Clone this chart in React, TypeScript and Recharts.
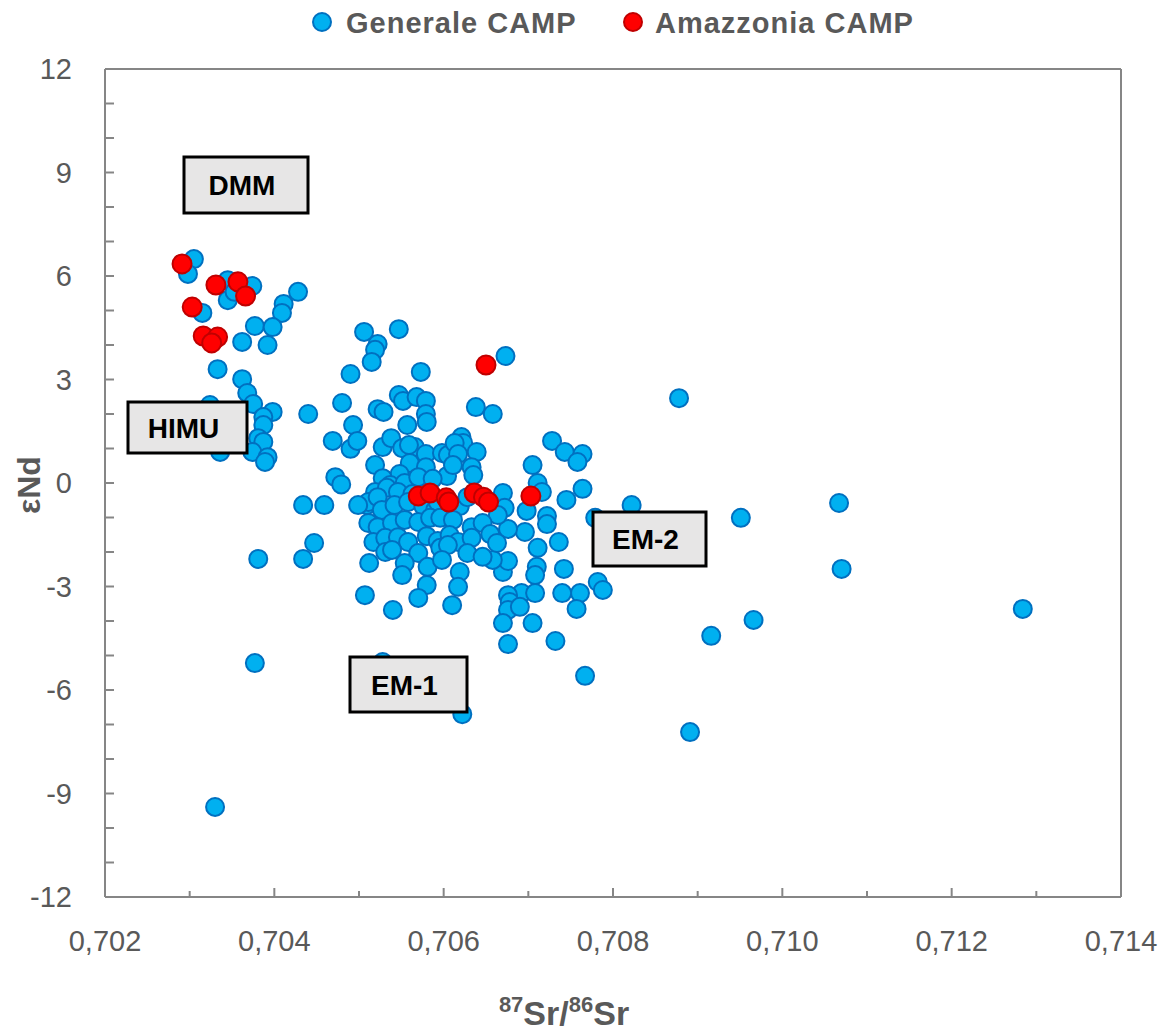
import React from "react";
import {
  ScatterChart,
  Scatter,
  XAxis,
  YAxis,
  ReferenceLine,
} from "recharts";

// [87Sr/86Sr, eNd]
const generaleCamp: [number, number][] = [
  [0.70305, 6.49], [0.70298, 6.06], [0.70345, 5.88], [0.70374, 5.71], [0.70345, 5.3],
  [0.70353, 5.54], [0.70315, 4.93], [0.70411, 5.19], [0.70409, 4.93], [0.70428, 5.54],
  [0.70377, 4.55], [0.70398, 4.52], [0.70362, 4.09], [0.70392, 4.0], [0.70333, 3.3],
  [0.70362, 3.01], [0.70368, 2.61], [0.70375, 2.29], [0.70398, 2.06], [0.7044, 2.0],
  [0.70324, 2.26], [0.70387, 1.91], [0.70387, 1.68], [0.70381, 1.3], [0.70387, 1.19],
  [0.70374, 0.9], [0.70392, 0.75], [0.70389, 0.61], [0.70336, 0.9], [0.70469, 1.22],
  [0.70472, 0.17], [0.7048, 2.32],
  [0.70493, 1.68], [0.7049, 0.99], [0.70479, -0.04], [0.70434, -0.64], [0.70459, -0.64],
  [0.70447, -1.74], [0.70434, -2.2], [0.70381, -2.2], [0.70377, -5.22],
  [0.7033, -9.39],
  [0.70506, 4.38], [0.70547, 4.46], [0.70522, 4.03], [0.70519, 3.86], [0.70515, 3.51],
  [0.70673, 3.68], [0.7049, 3.16], [0.70573, 3.22], [0.70547, 2.55], [0.70552, 2.38],
  [0.70568, 2.49], [0.70579, 2.38], [0.70579, 2.0], [0.70522, 2.14], [0.70529, 2.06],
  [0.70638, 2.2], [0.70658, 2.0], [0.70557, 1.68], [0.70498, 1.22], [0.70528, 1.04],
  [0.70538, 1.3], [0.70551, 1.01], [0.70566, 1.04], [0.70579, 0.84], [0.70598, 0.87],
  [0.70605, 0.81], [0.70621, 1.33], [0.70623, 1.16], [0.70639, 0.9], [0.70728, 1.22],
  [0.70743, 0.9], [0.70764, 0.84], [0.70758, 0.61], [0.70705, 0.52], [0.70711, 0.0],
  [0.70716, -0.26], [0.70764, -0.17], [0.70745, -0.49], [0.70779, -1.01], [0.70519, 0.52],
  [0.70509, -0.64], [0.70512, -2.32], [0.70507, -3.25], [0.70722, -0.96], [0.70722, -1.19],
  [0.70696, -1.42], [0.70676, -1.33], [0.70711, -1.88], [0.70736, -1.71], [0.7071, -2.43],
  [0.70708, -2.67], [0.70742, -2.49], [0.7067, -2.58], [0.70676, -2.26], [0.70658, -2.23],
  [0.70782, -2.87], [0.70788, -3.1], [0.70761, -3.19], [0.7074, -3.19], [0.70692, -3.19],
  [0.70676, -3.25], [0.70708, -3.19], [0.70619, -2.58], [0.70617, -3.01], [0.7058, -2.96],
  [0.7057, -3.33],
  [0.70559, 1.1], [0.7058, 1.77], [0.70613, 1.16], [0.70617, 0.84], [0.7056, 0.58],
  [0.70548, 0.26], [0.70579, 0.46], [0.70604, 0.2], [0.70611, 0.52], [0.70633, 0.46],
  [0.70635, 0.23], [0.70528, 0.14], [0.70537, -0.06], [0.70554, 0.0], [0.7057, 0.17],
  [0.70587, 0.12], [0.70519, -0.26], [0.70533, -0.14], [0.70546, -0.26], [0.70563, -0.32],
  [0.70511, -0.55], [0.70522, -0.41], [0.70499, -0.64], [0.70527, -0.78], [0.70542, -0.64],
  [0.70558, -0.55], [0.70576, -0.67], [0.7059, -0.78], [0.70593, -0.55], [0.70619, -0.67],
  [0.70628, -0.41], [0.7067, -0.29], [0.70672, -0.72], [0.70664, -0.93], [0.70511, -1.16],
  [0.70522, -1.28], [0.70539, -1.16], [0.70554, -1.07], [0.7057, -1.13], [0.70584, -1.01],
  [0.70596, -1.01], [0.70611, -1.07], [0.70633, -1.28], [0.70646, -1.16], [0.70517, -1.71],
  [0.70531, -1.59], [0.70546, -1.57], [0.70558, -1.71], [0.7058, -1.54], [0.70593, -1.68],
  [0.70607, -1.51], [0.70617, -1.71], [0.70633, -1.59], [0.70655, -1.48], [0.70663, -1.74],
  [0.70531, -2.0], [0.70539, -1.94], [0.7057, -2.03], [0.70596, -1.88], [0.70605, -1.8],
  [0.70628, -2.03], [0.70646, -2.14], [0.70554, -2.32], [0.70581, -2.43], [0.70598, -2.23],
  [0.70551, -2.67], [0.7061, -3.54], [0.7054, -3.68], [0.70678, -3.45], [0.70676, -3.68],
  [0.70698, -0.81], [0.7069, -3.59], [0.70757, -3.65], [0.7067, -4.06], [0.70705, -4.06],
  [0.70676, -4.67], [0.70732, -4.58], [0.70767, -5.59], [0.70822, -0.64],
  [0.70878, 2.46], [0.70951, -1.01], [0.71067, -0.58], [0.7107, -2.49], [0.71284, -3.65],
  [0.70966, -3.97], [0.70916, -4.43], [0.70891, -7.22], [0.70528, -5.19], [0.70622, -6.7],
];

const amazzoniaCamp: [number, number][] = [
  [0.70291, 6.35], [0.70331, 5.74], [0.70357, 5.83], [0.70366, 5.42], [0.70303, 5.1],
  [0.70316, 4.26], [0.70333, 4.23], [0.70326, 4.06], [0.7065, 3.42],
  [0.7057, -0.38], [0.70584, -0.29], [0.70603, -0.43], [0.70606, -0.55],
  [0.70636, -0.29], [0.70647, -0.41], [0.70653, -0.55], [0.70703, -0.38],
];

const xTicks = [
  0.702, 0.703, 0.704, 0.705, 0.706, 0.707, 0.708, 0.709, 0.71, 0.711, 0.712, 0.713, 0.714,
];
const yTicks = [
  -12, -11, -10, -9, -8, -7, -6, -5, -4, -3, -2, -1, 0, 1, 2, 3, 4, 5, 6, 7, 8, 9, 10, 11, 12,
];

const blueData = generaleCamp.map(([x, y]) => ({ x, y }));
const redData = amazzoniaCamp.map(([x, y]) => ({ x, y }));

const AXIS = "#868686";
const TEXT = "#595959";
const FONT = "'Liberation Sans', Arial, sans-serif";

function XTick(props: any) {
  const { x, y, payload } = props;
  const v = payload.value as number;
  const major = Math.round(v * 1000) % 2 === 0;
  return (
    <g>
      <line x1={x} x2={x} y1={y} y2={y - (major ? 9 : 6)} stroke={AXIS} strokeWidth={2} />
      {major && (
        <text x={x} y={y + 54} textAnchor="middle" fontSize={29} fill={TEXT} fontFamily={FONT}>
          {v.toFixed(3).replace(".", ",")}
        </text>
      )}
    </g>
  );
}

function YTick(props: any) {
  const { x, y, payload } = props;
  const v = payload.value as number;
  return (
    <g>
      <line x1={x} x2={x + 9} y1={y} y2={y} stroke={AXIS} strokeWidth={2} />
      {v % 3 === 0 && (
        <text x={x - 33} y={y + 10} textAnchor="end" fontSize={29} fill={TEXT} fontFamily={FONT}>
          {v}
        </text>
      )}
    </g>
  );
}

const blueDot = (p: any) => (
  <circle cx={p.cx} cy={p.cy} r={9} fill="#00b0f0" stroke="#0070c0" strokeWidth={2} />
);
const redDot = (p: any) => (
  <circle cx={p.cx} cy={p.cy} r={9.5} fill="#ff0000" stroke="#c00000" strokeWidth={2} />
);

function Box({ x, y, w, h, label }: { x: number; y: number; w: number; h: number; label: string }) {
  return (
    <g>
      <rect x={x} y={y} width={w} height={h} fill="#e7e6e6" stroke="#000" strokeWidth={3} />
      <text
        x={x + w / 2 - 4}
        y={y + h / 2 + 10}
        textAnchor="middle"
        fontSize={28}
        fontWeight="bold"
        fill="#000"
        fontFamily={FONT}
      >
        {label}
      </text>
    </g>
  );
}

export default function App() {
  return (
    <div
      style={{
        position: "absolute",
        left: 0,
        top: 0,
        width: 1161,
        height: 1036,
        background: "#fff",
        fontFamily: FONT,
      }}
    >
      <ScatterChart width={1161} height={1036} margin={{ top: 69, right: 40, bottom: 79, left: 45 }}>
        <XAxis
          type="number"
          dataKey="x"
          domain={[0.702, 0.714]}
          ticks={xTicks}
          interval={0}
          height={60}
          tickSize={0}
          tickMargin={0}
          tick={<XTick />}
          axisLine={{ stroke: AXIS, strokeWidth: 2 }}
          tickLine={false}
        />
        <YAxis
          type="number"
          dataKey="y"
          domain={[-12, 12]}
          ticks={yTicks}
          interval={0}
          width={60}
          tickSize={0}
          tickMargin={0}
          tick={<YTick />}
          axisLine={{ stroke: AXIS, strokeWidth: 2 }}
          tickLine={false}
        />
        <ReferenceLine y={12} stroke={AXIS} strokeWidth={2} />
        <ReferenceLine x={0.714} stroke={AXIS} strokeWidth={2} />
        <Scatter name="Generale CAMP" data={blueData} shape={blueDot} isAnimationActive={false} />
        <Scatter name="Amazzonia CAMP" data={redData} shape={redDot} isAnimationActive={false} />
      </ScatterChart>
      <svg
        width={1161}
        height={1036}
        style={{ position: "absolute", left: 0, top: 0, pointerEvents: "none" }}
      >
        <circle cx={322} cy={22} r={9} fill="#00b0f0" stroke="#0070c0" strokeWidth={2} />
        <text x={346} y={33} fontSize={29} fontWeight="bold" fill={TEXT} fontFamily={FONT} letterSpacing={1}>
          Generale CAMP
        </text>
        <circle cx={633} cy={22} r={9} fill="#ff0000" stroke="#c00000" strokeWidth={2} />
        <text x={655} y={33} fontSize={29} fontWeight="bold" fill={TEXT} fontFamily={FONT} letterSpacing={1}>
          Amazzonia CAMP
        </text>

        <text
          transform="translate(40,485) rotate(-90)"
          textAnchor="middle"
          fontSize={32}
          fontWeight="bold"
          fill={TEXT}
          fontFamily={FONT}
        >
          εNd
        </text>
        <text x={564} y={1025} textAnchor="middle" fontWeight="bold" fill={TEXT} fontFamily={FONT} fontSize={34}>
          <tspan fontSize={22} dy={-13}>87</tspan>
          <tspan fontSize={34} dy={13}>Sr/</tspan>
          <tspan fontSize={22} dy={-13}>86</tspan>
          <tspan fontSize={34} dy={13}>Sr</tspan>
        </text>

        <Box x={184} y={157} w={124} h={56} label="DMM" />
        <Box x={128} y={402} w={119} h={51} label="HIMU" />
        <Box x={593} y={512} w={113} h={54} label="EM-2" />
        <Box x={350} y={657} w={117} h={55} label="EM-1" />
      </svg>
    </div>
  );
}
